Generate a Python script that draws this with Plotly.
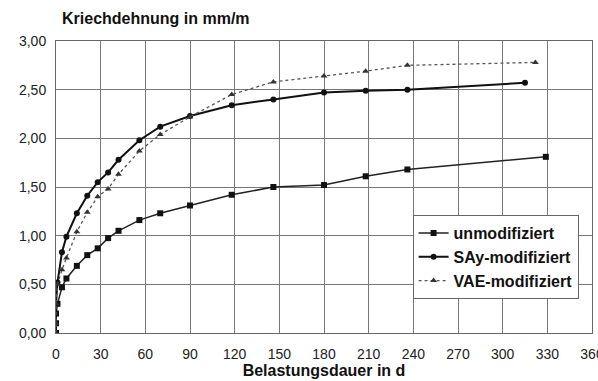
import plotly.graph_objects as go

days_unmod = [0, 0, 0, 1, 4, 7, 14, 21, 28, 35, 42, 56, 70, 90, 118, 146, 180, 208, 236, 329]
unmod = [0.0, 0.1, 0.2, 0.30, 0.47, 0.56, 0.69, 0.80, 0.87, 0.975, 1.05, 1.16, 1.23, 1.31, 1.42, 1.50, 1.52, 1.61, 1.68, 1.81]

days_say = [0, 0, 0, 1, 4, 7, 14, 21, 28, 35, 42, 56, 70, 90, 118, 146, 180, 208, 236, 315]
say = [0.0, 0.1, 0.3, 0.52, 0.83, 0.99, 1.23, 1.41, 1.55, 1.65, 1.78, 1.98, 2.12, 2.23, 2.34, 2.40, 2.47, 2.49, 2.50, 2.57]

days_vae = [0, 0, 0, 1, 4, 7, 14, 21, 28, 35, 42, 56, 70, 90, 118, 146, 180, 208, 236, 322]
vae = [0.0, 0.1, 0.3, 0.50, 0.65, 0.77, 1.04, 1.24, 1.40, 1.48, 1.63, 1.87, 2.04, 2.22, 2.45, 2.58, 2.64, 2.69, 2.75, 2.78]

x_ticks = list(range(0, 361, 30))
y_ticks = [0, 0.5, 1.0, 1.5, 2.0, 2.5, 3.0]

fig = go.Figure()
fig.add_trace(go.Scatter(x=days_unmod, y=unmod, name="unmodifiziert", mode="lines+markers",
                         line=dict(color="#222", width=1.5),
                         marker=dict(symbol="square", size=6, color="#111")))
fig.add_trace(go.Scatter(x=days_say, y=say, name="SAy-modifiziert", mode="lines+markers",
                         line=dict(color="#111", width=2),
                         marker=dict(symbol="circle", size=6, color="#111")))
fig.add_trace(go.Scatter(x=days_vae, y=vae, name="VAE-modifiziert", mode="lines+markers",
                         line=dict(color="#555", width=1.3, dash="dot"),
                         marker=dict(symbol="triangle-up", size=6, color="#333")))

font = "Liberation Sans, Arial, sans-serif"
fig.update_layout(
    width=598, height=381,
    margin=dict(l=56, r=6, t=41, b=48),
    paper_bgcolor="white", plot_bgcolor="white",
    separators=",.",
    font=dict(family=font, size=14, color="#222"),
    showlegend=True,
    legend=dict(x=0.975, y=0.404, xanchor="right", yanchor="top",
                bgcolor="white", bordercolor="#666", borderwidth=1,
                font=dict(size=16, family=font, weight="bold", color="#111"),
                tracegroupgap=0, itemwidth=30),
    annotations=[dict(text="<b>Kriechdehnung in mm/m</b>", xref="paper", yref="paper",
                      x=0.007, y=1.0, xanchor="left", yanchor="bottom", yshift=12,
                      showarrow=False, font=dict(size=16, family=font, color="#111"))],
)
fig.update_xaxes(range=[0, 360], tickvals=x_ticks, ticktext=[str(v) for v in x_ticks],
                 showgrid=True, gridcolor="#777", gridwidth=1, zeroline=False,
                 showline=True, linecolor="#666", mirror=True, automargin=False,
                 title=dict(text="<b>Belastungsdauer in d</b>", font=dict(size=16, family=font, color="#111"), standoff=2),
                 tickfont=dict(size=14, family=font), ticks="outside", ticklen=8,
                 tickcolor="rgba(0,0,0,0)", ticklabeloverflow="allow")
fig.update_yaxes(range=[0, 3], tickvals=y_ticks, tickformat=".2f",
                 showgrid=True, gridcolor="#777", gridwidth=1, zeroline=False,
                 showline=True, linecolor="#666", mirror=True, automargin=False,
                 tickfont=dict(size=14, family=font), ticks="outside", ticklen=6,
                 tickcolor="rgba(0,0,0,0)")
fig.write_html("out.html")
